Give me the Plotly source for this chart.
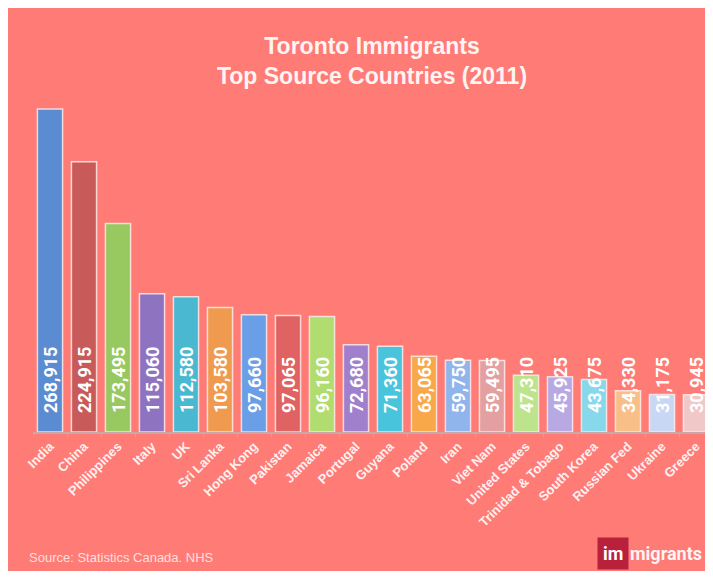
import plotly.graph_objects as go

countries = ["India", "China", "Philippines", "Italy", "UK", "Sri Lanka", "Hong Kong",
             "Pakistan", "Jamaica", "Portugal", "Guyana", "Poland", "Iran", "Viet Nam",
             "United States", "Trinidad & Tobago", "South Korea", "Russian Fed",
             "Ukraine", "Greece"]
immigrants = [268915, 224915, 173495, 115060, 112580, 103580, 97660, 97065, 96160,
              72680, 71360, 63065, 59750, 59495, 47310, 45925, 43675, 34330, 31175, 30945]
bar_colors = ["#5b8bd0", "#c85a5a", "#98c860", "#8e74c0", "#4ab8d0", "#f09a50", "#6a9ee6",
              "#e06262", "#b0dc70", "#a080cc", "#48c4dc", "#f8a848", "#90b4ec", "#e4a0a0",
              "#bce48c", "#b8a8e4", "#88d8ec", "#f8c088", "#c8d8f4", "#f0c8c8"]

BG = "#fe7b76"
# page has an 8px body margin; figure coordinates = page coordinates - 8
W, H = 705, 563
ML, MR, MT, MB = 25, 0, 92, 139
PW, PH = W - ML - MR, H - MT - MB

fig = go.Figure()
fig.add_trace(go.Bar(
    x=countries, y=immigrants,
    marker=dict(color=bar_colors, line=dict(color="rgba(255,235,235,0.85)", width=1.5)),
    hoverinfo="x+y",
))

for c, v in zip(countries, immigrants):
    fig.add_annotation(
        x=c, y=0, xref="x", yref="y", text=f"<b>{v:,}</b>", textangle=-90,
        showarrow=False, yanchor="bottom", xanchor="center", yshift=17,
        font=dict(family="Roboto", size=18, color="white"),
    )

fig.add_annotation(
    xref="paper", yref="paper", x=(19 - ML) / PW, y=(H - MB - 549) / PH,
    xanchor="left", yanchor="middle", showarrow=False,
    text="Source: Statistics Canada. NHS",
    font=dict(family="Liberation Sans", size=13, color="rgba(255,235,235,0.9)"),
)
fig.add_annotation(
    xref="paper", yref="paper", x=(589 - ML) / PW, y=(H - MB - 545) / PH,
    xanchor="left", yanchor="middle", showarrow=False,
    text="<b>im</b>", bgcolor="#b8203c", borderpad=5,
    font=dict(family="Roboto", size=18, color="white"),
)
fig.add_annotation(
    xref="paper", yref="paper", x=(620 - ML) / PW, y=(H - MB - 545) / PH,
    xanchor="left", yanchor="middle", showarrow=False,
    text="<b>migrants</b>",
    font=dict(family="Roboto", size=18, color="#fff4f4"),
)

fig.update_layout(
    width=W, height=H,
    margin=dict(l=ML, r=MR, t=MT, b=MB),
    paper_bgcolor=BG, plot_bgcolor=BG,
    bargap=0.26, showlegend=False,
    title=dict(
        text="<b>Toronto Immigrants<br>Top Source Countries (2011)</b>",
        x=364 / W, xref="container", xanchor="center",
        y=1 - 46 / H, yref="container", yanchor="top",
        font=dict(family="Liberation Sans", size=23, color="#fff4f4"),
    ),
    xaxis=dict(
        tickangle=-45,
        tickfont=dict(family="Liberation Sans", size=13, color="#fff0f0", weight="bold"),
        showline=True, linecolor="#c8a8a8", linewidth=1.5,
        ticks="outside", tickson="boundaries", ticklen=3, tickcolor="#c8a8a8",
        showgrid=False, fixedrange=True,
    ),
    yaxis=dict(
        range=[0, max(immigrants) * PH / 323], visible=False, showgrid=False,
    ),
)

fig.write_html("out.html")
